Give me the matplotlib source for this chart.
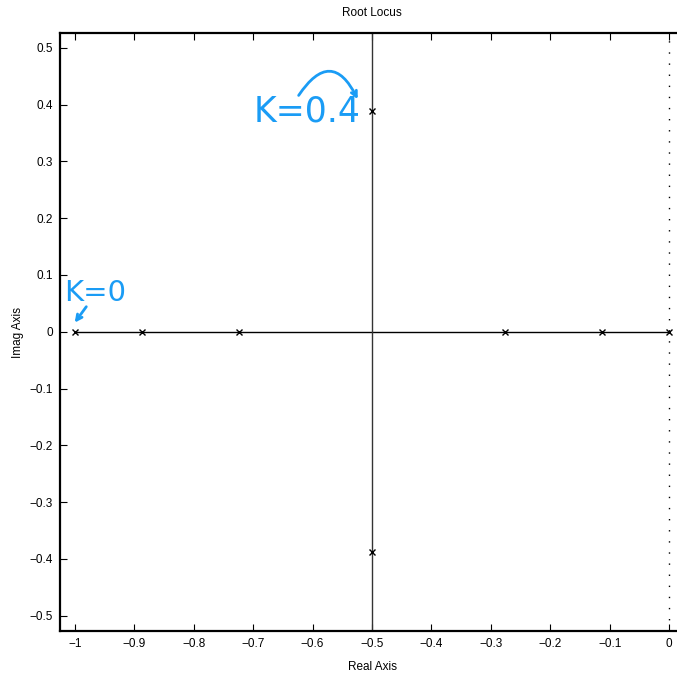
import matplotlib.pyplot as plt
from matplotlib.ticker import FixedLocator, FixedFormatter

plt.rcParams['font.family'] = ['Liberation Sans Narrow', 'Liberation Sans', 'DejaVu Sans']

# closed-loop poles (K = 0, 0.1, 0.2, 0.4)
pole_re = [-1.0, 0.0, -0.887, -0.113, -0.724, -0.277, -0.5, -0.5]
pole_im = [0.0, 0.0, 0.0, 0.0, 0.0, 0.0, 0.388, -0.388]

# locus branches
real_branch_x = [-1.0, 0.0]
real_branch_y = [0.0, 0.0]
vert_branch_x = [-0.5, -0.5]
vert_branch_y = [-0.6, 0.6]

xticks = [-1, -0.9, -0.8, -0.7, -0.6, -0.5, -0.4, -0.3, -0.2, -0.1, 0]
xlabels = ['\u22121', '\u22120.9', '\u22120.8', '\u22120.7', '\u22120.6', '\u22120.5',
           '\u22120.4', '\u22120.3', '\u22120.2', '\u22120.1', '0']
yticks = [-0.5, -0.4, -0.3, -0.2, -0.1, 0, 0.1, 0.2, 0.3, 0.4, 0.5]
ylabels = ['\u22120.5', '\u22120.4', '\u22120.3', '\u22120.2', '\u22120.1', '0',
           '0.1', '0.2', '0.3', '0.4', '0.5']

blue = '#1a9cf5'

fig = plt.figure(figsize=(6.77, 6.75), dpi=100)
ax = fig.add_axes([60 / 677, 44 / 675, 624 / 677, 598 / 675])

ax.plot(real_branch_x, real_branch_y, color='black', lw=1.0)
ax.plot(vert_branch_x, vert_branch_y, color='#333333', lw=1.0)
ax.axvline(0, color='black', lw=1.0, ls=(0, (1, 7)))
ax.plot(pole_re, pole_im, 'x', color='black', ms=5, mew=1.0)

ax.set_xlim(-1.025, 0.025)
ax.set_ylim(-0.527, 0.526)
ax.xaxis.set_major_locator(FixedLocator(xticks))
ax.xaxis.set_major_formatter(FixedFormatter(xlabels))
ax.yaxis.set_major_locator(FixedLocator(yticks))
ax.yaxis.set_major_formatter(FixedFormatter(ylabels))
ax.tick_params(direction='in', length=5, width=0.8, labelsize=8.5, pad=5)
ax.tick_params(top=True, right=False)
for side in ['left', 'bottom', 'top']:
    ax.spines[side].set_linewidth(1.6)
ax.spines['right'].set_visible(False)

ax.set_title('Root Locus', fontsize=8.5, pad=12)
ax.set_xlabel('Real Axis', fontsize=8.5, labelpad=8)
ax.set_ylabel('Imag Axis', fontsize=8.5, labelpad=4)

# hand-drawn annotations
ax.text(-1.018, 0.068, 'K=0', color=blue, fontsize=21, va='center', ha='left',
        family=['DejaVu Sans'])
ax.annotate('', xy=(-1.003, 0.012), xytext=(-0.978, 0.048),
            arrowprops=dict(arrowstyle='->', color=blue, lw=2))
ax.text(-0.700, 0.388, 'K=0.4', color=blue, fontsize=25, va='center', ha='left',
        family=['DejaVu Sans'])
ax.annotate('', xy=(-0.522, 0.405), xytext=(-0.626, 0.412),
            arrowprops=dict(arrowstyle='->', color=blue, lw=2,
                            connectionstyle='arc3,rad=-0.9'))

fig.savefig('out.png', dpi=100)
